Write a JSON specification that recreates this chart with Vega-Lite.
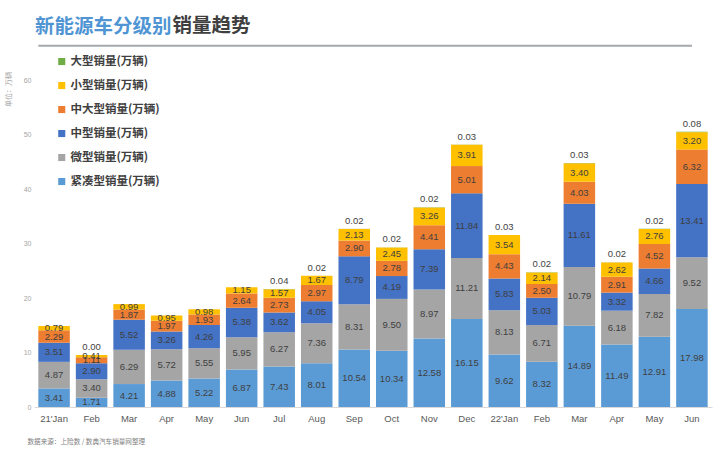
{
  "$schema": "https://vega.github.io/schema/vega-lite/v6.json",
  "width": 678,
  "height": 327,
  "autosize": {"type": "none"},
  "padding": {"left": 34, "top": 80, "right": 8, "bottom": 53},
  "background": "#ffffff",
  "config": {
    "view": {"stroke": null},
    "font": "Noto Sans CJK SC"
  },
  "title": {
    "text": "新能源车分级别",
    "anchor": "start",
    "frame": "group",
    "fontSize": 19.5,
    "fontWeight": "bold",
    "color": "#4f95d4",
    "dx": 1,
    "offset": 0,
    "dy": 22
  },
  "resolve": {"axis": {"y": "independent"}},
  "data": {
    "values": [
      {"m": "21'Jan", "t": "紧凑型销量(万辆)", "v": 3.41},
      {"m": "21'Jan", "t": "微型销量(万辆)", "v": 4.87},
      {"m": "21'Jan", "t": "中型销量(万辆)", "v": 3.51},
      {"m": "21'Jan", "t": "中大型销量(万辆)", "v": 2.29},
      {"m": "21'Jan", "t": "小型销量(万辆)", "v": 0.79},
      {"m": "Feb 21", "t": "紧凑型销量(万辆)", "v": 1.71},
      {"m": "Feb 21", "t": "微型销量(万辆)", "v": 3.40},
      {"m": "Feb 21", "t": "中型销量(万辆)", "v": 2.90},
      {"m": "Feb 21", "t": "中大型销量(万辆)", "v": 1.11},
      {"m": "Feb 21", "t": "小型销量(万辆)", "v": 0.41},
      {"m": "Feb 21", "t": "大型销量(万辆)", "v": 0.00},
      {"m": "Mar 21", "t": "紧凑型销量(万辆)", "v": 4.21},
      {"m": "Mar 21", "t": "微型销量(万辆)", "v": 6.29},
      {"m": "Mar 21", "t": "中型销量(万辆)", "v": 5.52},
      {"m": "Mar 21", "t": "中大型销量(万辆)", "v": 1.87},
      {"m": "Mar 21", "t": "小型销量(万辆)", "v": 0.99},
      {"m": "Apr 21", "t": "紧凑型销量(万辆)", "v": 4.88},
      {"m": "Apr 21", "t": "微型销量(万辆)", "v": 5.72},
      {"m": "Apr 21", "t": "中型销量(万辆)", "v": 3.26},
      {"m": "Apr 21", "t": "中大型销量(万辆)", "v": 1.97},
      {"m": "Apr 21", "t": "小型销量(万辆)", "v": 0.95},
      {"m": "May 21", "t": "紧凑型销量(万辆)", "v": 5.22},
      {"m": "May 21", "t": "微型销量(万辆)", "v": 5.55},
      {"m": "May 21", "t": "中型销量(万辆)", "v": 4.26},
      {"m": "May 21", "t": "中大型销量(万辆)", "v": 1.93},
      {"m": "May 21", "t": "小型销量(万辆)", "v": 0.98},
      {"m": "Jun 21", "t": "紧凑型销量(万辆)", "v": 6.87},
      {"m": "Jun 21", "t": "微型销量(万辆)", "v": 5.95},
      {"m": "Jun 21", "t": "中型销量(万辆)", "v": 5.38},
      {"m": "Jun 21", "t": "中大型销量(万辆)", "v": 2.64},
      {"m": "Jun 21", "t": "小型销量(万辆)", "v": 1.15},
      {"m": "Jul 21", "t": "紧凑型销量(万辆)", "v": 7.43},
      {"m": "Jul 21", "t": "微型销量(万辆)", "v": 6.27},
      {"m": "Jul 21", "t": "中型销量(万辆)", "v": 3.62},
      {"m": "Jul 21", "t": "中大型销量(万辆)", "v": 2.73},
      {"m": "Jul 21", "t": "小型销量(万辆)", "v": 1.57},
      {"m": "Jul 21", "t": "大型销量(万辆)", "v": 0.04},
      {"m": "Aug 21", "t": "紧凑型销量(万辆)", "v": 8.01},
      {"m": "Aug 21", "t": "微型销量(万辆)", "v": 7.36},
      {"m": "Aug 21", "t": "中型销量(万辆)", "v": 4.05},
      {"m": "Aug 21", "t": "中大型销量(万辆)", "v": 2.97},
      {"m": "Aug 21", "t": "小型销量(万辆)", "v": 1.67},
      {"m": "Aug 21", "t": "大型销量(万辆)", "v": 0.02},
      {"m": "Sep 21", "t": "紧凑型销量(万辆)", "v": 10.54},
      {"m": "Sep 21", "t": "微型销量(万辆)", "v": 8.31},
      {"m": "Sep 21", "t": "中型销量(万辆)", "v": 8.79},
      {"m": "Sep 21", "t": "中大型销量(万辆)", "v": 2.90},
      {"m": "Sep 21", "t": "小型销量(万辆)", "v": 2.13},
      {"m": "Sep 21", "t": "大型销量(万辆)", "v": 0.02},
      {"m": "Oct 21", "t": "紧凑型销量(万辆)", "v": 10.34},
      {"m": "Oct 21", "t": "微型销量(万辆)", "v": 9.50},
      {"m": "Oct 21", "t": "中型销量(万辆)", "v": 4.19},
      {"m": "Oct 21", "t": "中大型销量(万辆)", "v": 2.78},
      {"m": "Oct 21", "t": "小型销量(万辆)", "v": 2.45},
      {"m": "Oct 21", "t": "大型销量(万辆)", "v": 0.02},
      {"m": "Nov 21", "t": "紧凑型销量(万辆)", "v": 12.58},
      {"m": "Nov 21", "t": "微型销量(万辆)", "v": 8.97},
      {"m": "Nov 21", "t": "中型销量(万辆)", "v": 7.39},
      {"m": "Nov 21", "t": "中大型销量(万辆)", "v": 4.41},
      {"m": "Nov 21", "t": "小型销量(万辆)", "v": 3.26},
      {"m": "Nov 21", "t": "大型销量(万辆)", "v": 0.02},
      {"m": "Dec 21", "t": "紧凑型销量(万辆)", "v": 16.15},
      {"m": "Dec 21", "t": "微型销量(万辆)", "v": 11.21},
      {"m": "Dec 21", "t": "中型销量(万辆)", "v": 11.84},
      {"m": "Dec 21", "t": "中大型销量(万辆)", "v": 5.01},
      {"m": "Dec 21", "t": "小型销量(万辆)", "v": 3.91},
      {"m": "Dec 21", "t": "大型销量(万辆)", "v": 0.03},
      {"m": "22'Jan", "t": "紧凑型销量(万辆)", "v": 9.62},
      {"m": "22'Jan", "t": "微型销量(万辆)", "v": 8.13},
      {"m": "22'Jan", "t": "中型销量(万辆)", "v": 5.83},
      {"m": "22'Jan", "t": "中大型销量(万辆)", "v": 4.43},
      {"m": "22'Jan", "t": "小型销量(万辆)", "v": 3.54},
      {"m": "22'Jan", "t": "大型销量(万辆)", "v": 0.03},
      {"m": "Feb 22", "t": "紧凑型销量(万辆)", "v": 8.32},
      {"m": "Feb 22", "t": "微型销量(万辆)", "v": 6.71},
      {"m": "Feb 22", "t": "中型销量(万辆)", "v": 5.03},
      {"m": "Feb 22", "t": "中大型销量(万辆)", "v": 2.50},
      {"m": "Feb 22", "t": "小型销量(万辆)", "v": 2.14},
      {"m": "Feb 22", "t": "大型销量(万辆)", "v": 0.02},
      {"m": "Mar 22", "t": "紧凑型销量(万辆)", "v": 14.89},
      {"m": "Mar 22", "t": "微型销量(万辆)", "v": 10.79},
      {"m": "Mar 22", "t": "中型销量(万辆)", "v": 11.61},
      {"m": "Mar 22", "t": "中大型销量(万辆)", "v": 4.03},
      {"m": "Mar 22", "t": "小型销量(万辆)", "v": 3.40},
      {"m": "Mar 22", "t": "大型销量(万辆)", "v": 0.03},
      {"m": "Apr 22", "t": "紧凑型销量(万辆)", "v": 11.49},
      {"m": "Apr 22", "t": "微型销量(万辆)", "v": 6.18},
      {"m": "Apr 22", "t": "中型销量(万辆)", "v": 3.32},
      {"m": "Apr 22", "t": "中大型销量(万辆)", "v": 2.91},
      {"m": "Apr 22", "t": "小型销量(万辆)", "v": 2.62},
      {"m": "Apr 22", "t": "大型销量(万辆)", "v": 0.02},
      {"m": "May 22", "t": "紧凑型销量(万辆)", "v": 12.91},
      {"m": "May 22", "t": "微型销量(万辆)", "v": 7.82},
      {"m": "May 22", "t": "中型销量(万辆)", "v": 4.66},
      {"m": "May 22", "t": "中大型销量(万辆)", "v": 4.52},
      {"m": "May 22", "t": "小型销量(万辆)", "v": 2.76},
      {"m": "May 22", "t": "大型销量(万辆)", "v": 0.02},
      {"m": "Jun 22", "t": "紧凑型销量(万辆)", "v": 17.98},
      {"m": "Jun 22", "t": "微型销量(万辆)", "v": 9.52},
      {"m": "Jun 22", "t": "中型销量(万辆)", "v": 13.41},
      {"m": "Jun 22", "t": "中大型销量(万辆)", "v": 6.32},
      {"m": "Jun 22", "t": "小型销量(万辆)", "v": 3.20},
      {"m": "Jun 22", "t": "大型销量(万辆)", "v": 0.08}
    ]
  },
  "transform": [
    {"calculate": "indexof(['紧凑型销量(万辆)','微型销量(万辆)','中型销量(万辆)','中大型销量(万辆)','小型销量(万辆)','大型销量(万辆)'], datum.t)", "as": "r"},
    {"stack": "v", "groupby": ["m"], "sort": [{"field": "r", "order": "ascending"}], "as": ["y0", "y1"]},
    {"calculate": "(datum.y0 + datum.y1) / 2", "as": "ym"}
  ],
  "encoding": {
    "x": {
      "field": "m",
      "type": "ordinal",
      "scale": {
        "domain": ["21'Jan", "Feb 21", "Mar 21", "Apr 21", "May 21", "Jun 21", "Jul 21", "Aug 21", "Sep 21", "Oct 21", "Nov 21", "Dec 21", "22'Jan", "Feb 22", "Mar 22", "Apr 22", "May 22", "Jun 22"],
        "paddingInner": 0.16,
        "paddingOuter": 0.115
      },
      "axis": {
        "labelExpr": "indexof(datum.label, \"'\") >= 0 ? datum.label : slice(datum.label, 0, 3)",
        "labelAngle": 0,
        "labelFont": "Liberation Sans",
        "labelFontSize": 9.5,
        "labelColor": "#595959",
        "labelPadding": 6,
        "ticks": false,
        "domainColor": "#d9d9d9",
        "domainWidth": 1,
        "title": "数据来源：上险数 / 数典汽车销量网整理",
        "titleFont": "Noto Sans CJK SC",
        "titleFontSize": 6.6,
        "titleFontWeight": "normal",
        "titleColor": "#7f7f7f",
        "titleAlign": "left",
        "titleBaseline": "middle",
        "titleX": -7,
        "titleY": 34
      }
    }
  },
  "layer": [
    {
      "data": {"values": [{}]},
      "mark": {"type": "rule", "color": "#a5a9ad", "strokeWidth": 2},
      "encoding": {
        "x": {"datum": "21'Jan", "bandPosition": 0},
        "x2": {"datum": "Jun 22"},
        "y": {"datum": 66.3, "type": "quantitative", "axis": null}
      }
    },
    {
      "mark": {"type": "bar"},
      "encoding": {
        "y": {
          "field": "y0",
          "type": "quantitative",
          "scale": {"domain": [0, 60], "nice": false},
          "axis": {
            "values": [0, 10, 20, 30, 40, 50, 60],
            "grid": false,
            "ticks": false,
            "domain": false,
            "labelFont": "Liberation Sans",
            "labelFontSize": 7,
            "labelColor": "#a6a6a6",
            "labelPadding": 3,
            "title": "单位：万辆",
            "titleFont": "Noto Sans CJK SC",
            "titleFontSize": 7,
            "titleFontWeight": "normal",
            "titleColor": "#a6a6a6",
            "titleAngle": -90,
            "titleAlign": "center",
            "titleBaseline": "middle",
            "titleX": -26,
            "titleY": 9
          }
        },
        "y2": {"field": "y1"},
        "color": {
          "field": "t",
          "type": "nominal",
          "scale": {
            "domain": ["大型销量(万辆)", "小型销量(万辆)", "中大型销量(万辆)", "中型销量(万辆)", "微型销量(万辆)", "紧凑型销量(万辆)"],
            "range": ["#70AD47", "#FFC000", "#ED7D31", "#4472C4", "#A5A5A5", "#5B9BD5"]
          },
          "legend": {
            "title": null,
            "orient": "none",
            "legendX": 22,
            "legendY": -24.2,
            "direction": "vertical",
            "symbolType": "square",
            "symbolSize": 50,
            "symbolStrokeWidth": 0,
            "labelFont": "Noto Sans CJK SC",
            "labelFontSize": 11.5,
            "labelFontWeight": "bold",
            "labelColor": "#404040",
            "labelOffset": 3,
            "rowPadding": 11.0
          }
        }
      }
    },
    {
      "transform": [{"filter": "datum.t != '大型销量(万辆)'"}],
      "mark": {"type": "text", "font": "Liberation Sans", "fontSize": 9.5, "color": "#3f3f3f", "baseline": "middle"},
      "encoding": {
        "y": {"field": "ym", "type": "quantitative", "axis": null},
        "text": {"field": "v", "type": "quantitative", "format": ".2f"}
      }
    },
    {
      "transform": [{"filter": "datum.t == '大型销量(万辆)'"}],
      "mark": {"type": "text", "font": "Liberation Sans", "fontSize": 9.5, "color": "#3f3f3f", "baseline": "middle", "dy": -8},
      "encoding": {
        "y": {
          "field": "y1",
          "type": "quantitative",
          "axis": {
            "orient": "right",
            "labels": false,
            "ticks": false,
            "domain": false,
            "grid": false,
            "title": "销量趋势",
            "titleFont": "Noto Sans CJK SC",
            "titleFontSize": 19.5,
            "titleFontWeight": "bold",
            "titleColor": "#3f3f3f",
            "titleAngle": 0,
            "titleAlign": "left",
            "titleBaseline": "middle",
            "titleX": -540,
            "titleY": -55
          }
        },
        "text": {"field": "v", "type": "quantitative", "format": ".2f"}
      }
    }
  ]
}
